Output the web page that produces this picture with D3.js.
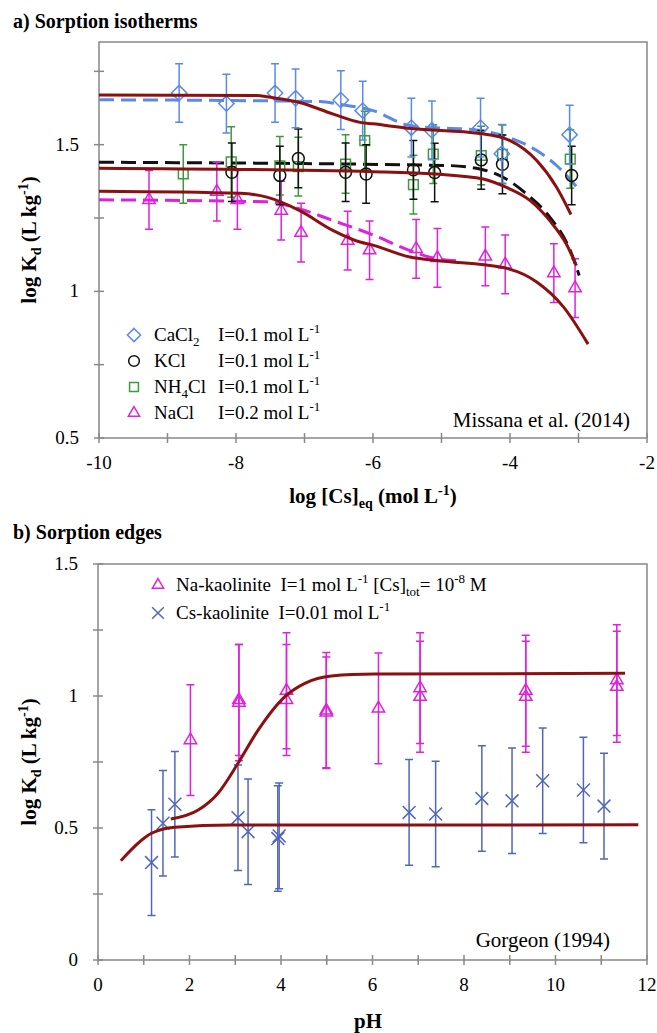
<!DOCTYPE html>
<html><head><meta charset="utf-8"><script src="https://cdn.jsdelivr.net/npm/d3@7"></script></head>
<body style="margin:0"><script>
// ---------- data: a) sorption isotherms, [log Cs_eq, log Kd, error]
var cacl2 = [[-8.83,1.676,0.10],[-8.14,1.64,0.10],[-7.43,1.676,0.10],[-7.13,1.658,0.10],[-6.47,1.652,0.10],
  [-6.15,1.616,0.10],[-5.44,1.558,0.10],[-5.14,1.549,0.10],[-4.43,1.558,0.10],[-4.12,1.469,0.10],[-3.13,1.534,0.10]];
var kcl = [[-8.06,1.406,0.10],[-7.36,1.395,0.10],[-7.09,1.453,0.10],[-6.40,1.406,0.10],[-6.10,1.40,0.10],
  [-5.41,1.414,0.10],[-5.10,1.405,0.10],[-4.42,1.448,0.10],[-4.11,1.433,0.10],[-3.10,1.395,0.10]];
var nh4cl = [[-8.77,1.40,0.10],[-8.07,1.441,0.12],[-7.36,1.428,0.10],[-7.09,1.425,0.10],[-6.40,1.434,0.10],
  [-6.12,1.514,0.10],[-5.41,1.364,0.10],[-5.12,1.468,0.10],[-4.42,1.463,0.10],[-4.11,1.467,0.10],[-3.12,1.451,0.10]];
var nacl = [[-9.27,1.312,0.10],[-8.28,1.34,0.10],[-7.98,1.312,0.10],[-7.34,1.275,0.10],[-7.05,1.20,0.10],
  [-6.37,1.173,0.10],[-6.05,1.14,0.10],[-5.37,1.145,0.10],[-5.06,1.114,0.10],[-4.36,1.119,0.10],
  [-4.07,1.092,0.10],[-3.36,1.062,0.10],[-3.05,1.011,0.10]];

// model curves (solid) and fits (dashed)
var fitCa = [[-10,1.669],[-7.69,1.668],[-7.55,1.663],[-7.07,1.644],[-6.58,1.604],[-6.19,1.576],[-6.0,1.571],
  [-5.44,1.555],[-4.44,1.538],[-4.0,1.514],[-3.61,1.446],[-3.32,1.355],[-3.11,1.262]];
var fitK = [[-10,1.42],[-6.0,1.408],[-5.08,1.40],[-4.39,1.383],[-4.06,1.355],[-3.71,1.31],[-3.42,1.241],
  [-3.18,1.162],[-3.03,1.088]];
var fitNa = [[-10,1.341],[-7.94,1.334],[-7.55,1.321],[-7.07,1.275],[-6.58,1.207],[-6.19,1.168],[-6.04,1.160],
  [-5.46,1.117],[-5.07,1.105],[-4.10,1.081],[-3.61,1.032],[-3.22,0.947],[-2.86,0.82]];
var dashCa = [[-10,1.653],[-6.77,1.647],[-6.5,1.638],[-6.0,1.616],[-5.46,1.565],[-4.44,1.548],[-4.0,1.523],
  [-3.61,1.48],[-3.32,1.429],[-3.0,1.349]];
var dashK = [[-10,1.44],[-4.93,1.429],[-4.44,1.417],[-4.1,1.389],[-3.76,1.332],[-3.42,1.253],[-3.12,1.139],[-2.99,1.054]];
var dashNa = [[-10,1.312],[-7.55,1.305],[-7.07,1.281],[-6.58,1.241],[-6.04,1.196],[-5.46,1.139],[-5.07,1.111],[-4.69,1.103]];

// ---------- data: b) sorption edges, [pH, log Kd, error]
var naKaol = [[2.02,0.833,0.21],[3.08,0.975,0.22],[3.08,0.985,0.21],[4.12,1.02,0.22],[4.12,0.985,0.21],
  [4.99,0.938,0.21],[4.99,0.945,0.22],[6.13,0.953,0.21],[7.04,1.03,0.21],[7.04,0.997,0.21],
  [9.35,1.02,0.21],[9.35,0.997,0.21],[11.34,1.06,0.21],[11.34,1.035,0.21]];
var csKaol = [[1.17,0.369,0.2],[1.42,0.518,0.2],[1.68,0.59,0.2],[3.06,0.539,0.2],[3.28,0.486,0.2],
  [3.93,0.46,0.2],[3.96,0.47,0.2],[6.80,0.559,0.2],[7.38,0.553,0.2],[8.39,0.612,0.2],[9.05,0.603,0.2],
  [9.72,0.679,0.2],[10.61,0.644,0.2],[11.06,0.583,0.2]];
var edgeNa = [[1.59,0.534],[2.19,0.568],[2.62,0.631],[3.06,0.745],[3.50,0.871],[4.08,0.997],[4.52,1.048],
  [5.10,1.076],[6.05,1.083],[11.52,1.086]];
var edgeCs = [[0.50,0.376],[1.17,0.48],[1.68,0.503],[2.92,0.511],[11.81,0.512]];

var xTicksA = [-10,-9,-8,-7,-6,-5,-4,-3,-2], xLabA = [-10,-8,-6,-4,-2];
var yTicksA = [0.5,0.75,1,1.25,1.5,1.75], yLabA = [0.5,1,1.5];
var xTicksB = [0,1,2,3,4,5,6,7,8,9,10,11,12], xLabB = [0,2,4,6,8,10,12];
var yTicksB = [0,0.25,0.5,0.75,1,1.25,1.5], yLabB = [0,0.5,1,1.5];

var red = "#8b1111", blue = "#5a8ae8", green = "#3f9a3f", mag = "#dd22dd", navy = "#5266b8";

var svg = d3.select("body").append("svg").attr("width", 657).attr("height", 1033);
var texts = [];   // [parent, x, y, size, bold, anchor, parts] drawn at the end

function label(parent, x, y, size, bold, anchor, parts, rot) {
  texts.push({p: parent, x: x, y: y, size: size, bold: bold, anchor: anchor, parts: parts, rot: rot});
}

function panel(o) {
  var x = d3.scaleLinear().domain(o.xd).range([o.l, o.r]);
  var y = d3.scaleLinear().domain(o.yd).range([o.b, o.t]);
  var g = svg.append("g").attr("stroke", "#888").attr("stroke-width", 1.5).attr("fill", "none");

  g.append("path").attr("d", "M" + o.r + "," + o.b + "H" + o.l + "V" + o.t + "H" + o.r + "V" + o.b);
  g.selectAll("line.xt").data(o.xt).enter().append("line")
    .attr("x1", x).attr("x2", x).attr("y1", o.b - 5).attr("y2", o.b + 5);
  g.selectAll("line.yt").data(o.yt).enter().append("line")
    .attr("y1", y).attr("y2", y).attr("x1", o.l - 5).attr("x2", o.l + 5);

  o.xl.forEach(function(v) { label(svg, x(v), o.b + 31, 19, false, "middle", [[String(v)]]); });
  o.yl.forEach(function(v) { label(svg, o.l - 20, y(v) + 6, 19, false, "end", [[String(v)]]); });

  return {x: x, y: y, g: svg.append("g")};
}

function curve(p, pts, dashed, col) {
  p.g.append("path").datum(pts)
    .attr("d", d3.line().x(function(d) { return p.x(d[0]); }).y(function(d) { return p.y(d[1]); })
      .curve(d3.curveMonotoneX))
    .attr("fill", "none").attr("stroke", col).attr("stroke-width", 3)
    .attr("stroke-dasharray", dashed ? "15,7" : null);
}

function points(p, pts, sym, size, col) {
  var gg = p.g.append("g").attr("stroke", col).attr("fill", "none").attr("stroke-width", 1.5);
  gg.selectAll("path.eb").data(pts).enter().append("path")
    .attr("d", function(d) {
      var cx = p.x(d[0]), y1 = p.y(d[1] + d[2]), y2 = p.y(d[1] - d[2]);
      return "M" + cx + "," + y1 + "V" + y2 + "M" + (cx - 4) + "," + y1 + "h8M" + (cx - 4) + "," + y2 + "h8";
    });
  gg.selectAll("path.mk").data(pts).enter().append("path")
    .attr("transform", function(d) { return "translate(" + p.x(d[0]) + "," + p.y(d[1]) + ")"; })
    .attr("d", d3.symbol().type(sym).size(size));
}

function marker(x, y, sym, size, col) {
  svg.append("path").attr("transform", "translate(" + x + "," + y + ")")
    .attr("d", d3.symbol().type(sym).size(size)).attr("fill", "none")
    .attr("stroke", col).attr("stroke-width", 1.5);
}

// parts: [text, shift] where shift "sub" / "sup"
var SUB = "sub", SUP = "sup";

// ---------- panel a
label(svg, 13, 28, 20, true, "start", [["a) Sorption isotherms"]]);
var pa = panel({xd: [-10, -2], yd: [0.5, 1.85], l: 99, r: 647, t: 42, b: 438,
  xt: xTicksA, xl: xLabA, yt: yTicksA, yl: yLabA});

curve(pa, dashCa, true, blue);
curve(pa, dashK, true, "#111");
curve(pa, dashNa, true, mag);
points(pa, nacl, d3.symbolTriangle2, 110, mag);
points(pa, nh4cl, d3.symbolSquare2, 120, green);
points(pa, kcl, d3.symbolCircle, 110, "#111");
points(pa, cacl2, d3.symbolDiamond2, 150, blue);
curve(pa, fitCa, false, red);
curve(pa, fitK, false, red);
curve(pa, fitNa, false, red);

var legA = [
  {sym: d3.symbolDiamond2, size: 110, col: blue, name: [["CaCl"], ["2", SUB]], I: "0.1"},
  {sym: d3.symbolCircle, size: 90, col: "#111", name: [["KCl"]], I: "0.1"},
  {sym: d3.symbolSquare2, size: 100, col: green, name: [["NH"], ["4", SUB], ["Cl"]], I: "0.1"},
  {sym: d3.symbolTriangle2, size: 90, col: mag, name: [["NaCl"]], I: "0.2"}
];
legA.forEach(function(d, i) {
  var yy = 335 + i * 26;
  marker(134, yy, d.sym, d.size, d.col);
  label(svg, 154, yy + 6, 19, false, "start", d.name);
  label(svg, 218, yy + 6, 19, false, "start", [["I=" + d.I + " mol L"], ["-1", SUP]]);
});
label(svg, 630, 427, 21, false, "end", [["Missana et al. (2014)"]]);
label(svg, 373, 503, 21, true, "middle", [["log [Cs]"], ["eq", SUB], [" (mol L"], ["-1", SUP], [")"]]);
var yTitleParts = [["log K"], ["d", SUB], [" (L kg"], ["-1", SUP], [")"]];
label(svg, 36, 240, 21, true, "middle", yTitleParts, true);

// ---------- panel b
label(svg, 13, 539, 20, true, "start", [["b) Sorption edges"]]);
var pb = panel({xd: [0, 12], yd: [0, 1.5], l: 98, r: 647, t: 564, b: 960,
  xt: xTicksB, xl: xLabB, yt: yTicksB, yl: yLabB});

points(pb, naKaol, d3.symbolTriangle2, 110, mag);
points(pb, csKaol, d3.symbolX, 110, navy);
curve(pb, edgeNa, false, red);
curve(pb, edgeCs, false, red);

marker(158, 585, d3.symbolTriangle2, 90, mag);
marker(158, 613, d3.symbolX, 90, navy);
label(svg, 176, 591, 19, false, "start",
  [["Na-kaolinite\u00a0\u00a0I=1 mol L"], ["-1", SUP], [" [Cs]"], ["tot", SUB], ["= 10"], ["-8", SUP], [" M"]]);
label(svg, 176, 619, 19, false, "start", [["Cs-kaolinite\u00a0\u00a0I=0.01 mol L"], ["-1", SUP]]);
label(svg, 610, 947, 21, false, "end", [["Gorgeon (1994)"]]);
label(svg, 368, 1028, 21, true, "middle", [["pH"]]);
label(svg, 36, 762, 21, true, "middle", yTitleParts, true);

// ---------- all text, one join
var tx = svg.selectAll("text.lbl").data(texts).enter().append("text").attr("class", "lbl")
  .style("font-family", function() { return "'Liberation Serif'"; })
  .style("font-weight", function(d) { return d.bold ? "bold" : "normal"; })
  .attr("font-size", function(d) { return d.size; })
  .attr("text-anchor", function(d) { return d.anchor; })
  .attr("x", function(d) { return d.rot ? 0 : d.x; })
  .attr("y", function(d) { return d.rot ? 0 : d.y; })
  .attr("transform", function(d) { return d.rot ? "translate(" + d.x + "," + d.y + ") rotate(-90)" : null; });
tx.each(function(d) {
  var t = d3.select(this), prev = null;
  d.parts.forEach(function(p) {
    var s = t.append("tspan").text(p[0]);
    var off = p[1] === SUB ? 5 : p[1] === SUP ? -8 : 0;
    var back = prev === SUB ? -5 : prev === SUP ? 8 : 0;
    if (off + back) s.attr("dy", off + back);
    if (p[1]) s.attr("font-size", Math.round(d.size * 0.66));
    prev = p[1] || null;
  });
});
</script></body></html>
